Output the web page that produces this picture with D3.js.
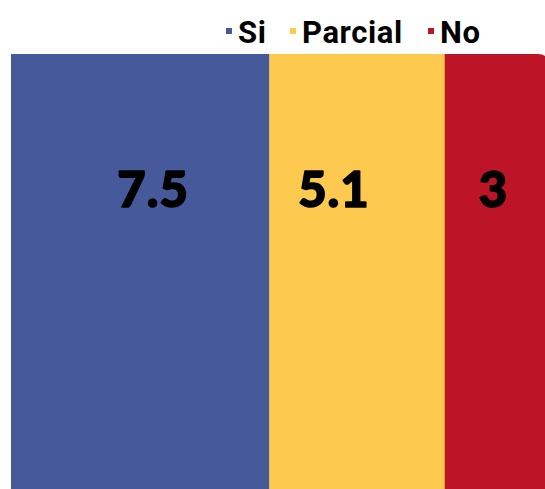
<!DOCTYPE html>
<html>
<head>
<meta charset="utf-8">
<script src="https://cdn.jsdelivr.net/npm/d3@7"></script>
<style>
  html, body { margin: 0; padding: 0; background: #fff; }
  svg { display: block; }
</style>
</head>
<body>
<svg id="chart" width="545" height="489"></svg>
<script>
const categories = ['Si', 'Parcial', 'No'];
const values = [7.5, 5.1, 3];
const colors = ['#465a9b', '#fec94f', '#be1428'];

const svg = d3.select('#chart'),
      width = +svg.attr('width'),
      height = +svg.attr('height');

const barTop = 54, barBottom = height + 20, radius = 10;

// running totals for stacked segments
let acc = 0;
const segs = values.map((v, i) => {
  const s = { cat: categories[i], value: v, start: acc, end: acc + v, color: colors[i] };
  acc += v;
  return s;
});

const x = d3.scaleLinear()
    .domain([0, d3.sum(values)])
    .range([11, 548]);

// small label nudges to match original placement
const labelNudge = [13, -23, -3];

segs.forEach((d, i) => {
  const x0 = x(d.start), x1 = x(d.end);
  if (i === segs.length - 1) {
    const p = d3.path();
    p.moveTo(x0, barTop);
    p.lineTo(x1 - radius, barTop);
    p.quadraticCurveTo(x1, barTop, x1, barTop + radius);
    p.lineTo(x1, barBottom);
    p.lineTo(x0, barBottom);
    p.closePath();
    svg.append('path').attr('d', p.toString()).attr('fill', d.color);
  } else {
    svg.append('rect')
      .attr('x', x0).attr('y', barTop)
      .attr('width', x1 - x0 + 0.5).attr('height', barBottom - barTop)
      .attr('fill', d.color);
  }
});

svg.selectAll('.val')
  .data(segs)
  .enter().append('text')
    .attr('class', 'val')
    .attr('x', (d, i) => x((d.start + d.end) / 2) + labelNudge[i])
    .attr('y', 207)
    .attr('text-anchor', 'middle')
    .style('font-family', 'Lato, sans-serif')
    .style('font-weight', 900)
    .style('font-size', '49px')
    .style('letter-spacing', '1px')
    .attr('fill', '#000')
    .attr('stroke', '#000')
    .attr('stroke-width', 1.6)
    .attr('stroke-linejoin', 'round')
    .text(d => d.value);

// legend
const legendX = [226, 290, 428];
const legend = svg.selectAll('.legend')
  .data(segs)
  .enter().append('g')
    .attr('class', 'legend')
    .attr('transform', (d, i) => `translate(${legendX[i]},0)`);

legend.append('rect')
  .attr('x', 0).attr('y', 28)
  .attr('width', 6).attr('height', 6)
  .attr('fill', d => d.color);

legend.append('text')
  .attr('x', 12).attr('y', 43)
  .style('font-family', 'Roboto, sans-serif')
  .style('font-weight', 'bold')
  .style('font-size', '31px')
  .style('letter-spacing', '0.6px')
  .attr('fill', '#000')
  .text(d => d.cat);
</script>
</body>
</html>
